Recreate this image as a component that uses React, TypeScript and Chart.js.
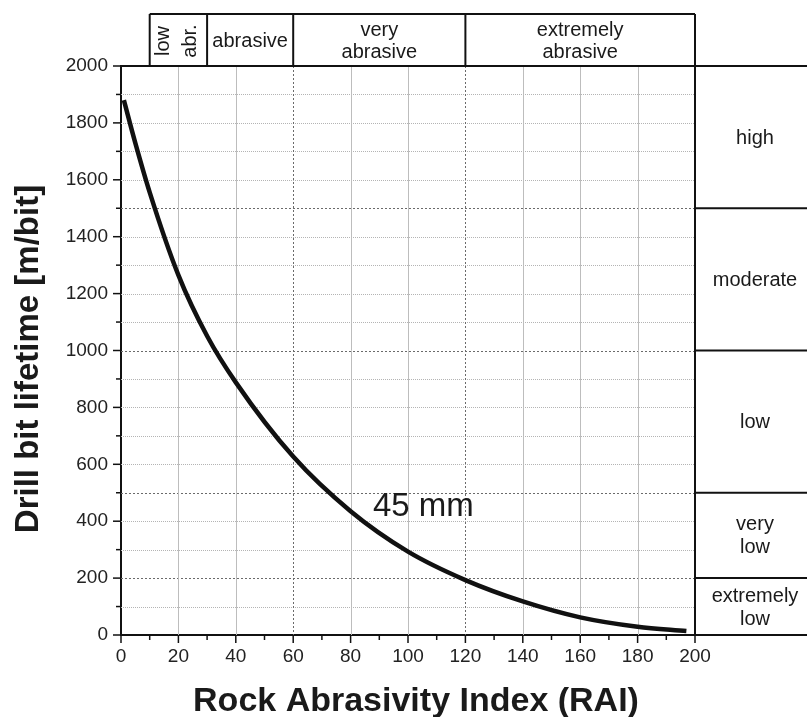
import React, { useEffect, useRef } from "react";
import { Chart, registerables } from "chart.js";

Chart.register(...registerables);

// ---- data ----
const RAI = [1, 5, 10, 20, 30, 40, 60, 80, 100, 120, 140, 160, 180, 197];
const LIFETIME = [1880, 1729, 1556, 1265, 1051, 888, 627, 435, 293, 193, 118, 62, 29, 14];
const CURVE_LABEL = "45 mm";

// abrasivity classes (top header), bounds in RAI
const ABR_BOUNDS = [10, 30, 60, 120, 200];
const ABR_LABELS = [["low", "abr."], ["abrasive"], ["very", "abrasive"], ["extremely", "abrasive"]];

// lifetime classes (right panel), bounds in m/bit
const LIFE_BOUNDS = [0, 200, 500, 1000, 1500, 2000];
const LIFE_LABELS = [["extremely", "low"], ["very", "low"], ["low"], ["moderate"], ["high"]];

const X_TITLE = "Rock Abrasivity Index (RAI)";
const Y_TITLE = "Drill bit lifetime [m/bit]";

const W = 807;
const H = 717;
const FONT = "'Liberation Sans', Arial, Helvetica, sans-serif";
const HEADER_TOP = 14;

function seg(ctx: CanvasRenderingContext2D, x1: number, y1: number, x2: number, y2: number) {
  ctx.beginPath();
  ctx.moveTo(x1, y1);
  ctx.lineTo(x2, y2);
  ctx.stroke();
}

const overlay = {
  id: "overlay",
  beforeDatasetsDraw(chart: any) {
    const { ctx, chartArea: a, scales } = chart;
    const x = scales.x;
    const y = scales.y;
    ctx.save();
    ctx.lineWidth = 1;
    for (let v = 100; v < 2000; v += 100) {
      const py = Math.round(y.getPixelForValue(v)) + 0.5;
      const strong = LIFE_BOUNDS.includes(v);
      ctx.strokeStyle = strong ? "#6a6a6a" : "#b4b4b4";
      ctx.setLineDash(strong ? [2, 2] : [1, 1]);
      seg(ctx, a.left, py, a.right, py);
    }
    for (let v = 20; v < 200; v += 20) {
      const px = Math.round(x.getPixelForValue(v)) + 0.5;
      const strong = ABR_BOUNDS.includes(v);
      ctx.strokeStyle = strong ? "#6a6a6a" : "#bdbdbd";
      ctx.setLineDash(strong ? [2, 2] : []);
      seg(ctx, px, a.top, px, a.bottom);
    }
    ctx.restore();
  },
  afterDraw(chart: any) {
    const { ctx, chartArea: a, scales } = chart;
    const x = scales.x;
    const y = scales.y;
    ctx.save();
    ctx.setLineDash([]);
    ctx.strokeStyle = "#111";
    ctx.fillStyle = "#1a1a1a";

    // tick marks
    ctx.lineWidth = 1.5;
    for (let v = 0; v <= 200; v += 10) {
      const px = x.getPixelForValue(v);
      seg(ctx, px, a.bottom, px, a.bottom + (v % 20 === 0 ? 8 : 5));
    }
    for (let v = 0; v <= 2000; v += 100) {
      const py = y.getPixelForValue(v);
      seg(ctx, a.left, py, a.left - (v % 200 === 0 ? 8 : 5), py);
    }

    // frame: top line and right border
    ctx.lineWidth = 2;
    seg(ctx, a.left - 1, a.top, W, a.top);
    seg(ctx, a.right, HEADER_TOP, a.right, a.bottom);

    // header boxes
    const hx0 = x.getPixelForValue(ABR_BOUNDS[0]);
    const hx1 = x.getPixelForValue(ABR_BOUNDS[ABR_BOUNDS.length - 1]);
    seg(ctx, hx0, HEADER_TOP, hx1, HEADER_TOP);
    ABR_BOUNDS.forEach((b) => {
      const px = x.getPixelForValue(b);
      seg(ctx, px, HEADER_TOP, px, a.top);
    });
    ctx.font = `20px ${FONT}`;
    ctx.textAlign = "center";
    ctx.textBaseline = "middle";
    const hMid = (HEADER_TOP + a.top) / 2;
    ABR_LABELS.forEach((lines, i) => {
      const cx = (x.getPixelForValue(ABR_BOUNDS[i]) + x.getPixelForValue(ABR_BOUNDS[i + 1])) / 2;
      if (i === 0) {
        lines.forEach((t, j) => {
          ctx.save();
          ctx.translate(cx - 15 + j * 27, hMid + 1);
          ctx.rotate(-Math.PI / 2);
          ctx.fillText(t, 0, 0);
          ctx.restore();
        });
      } else {
        const lh = 22;
        lines.forEach((t, j) => {
          ctx.fillText(t, cx, hMid + 1 + (j - (lines.length - 1) / 2) * lh);
        });
      }
    });

    // right panel
    LIFE_BOUNDS.forEach((b) => {
      const py = y.getPixelForValue(b);
      seg(ctx, a.right, py, W, py);
    });
    LIFE_LABELS.forEach((lines, i) => {
      const cy = (y.getPixelForValue(LIFE_BOUNDS[i]) + y.getPixelForValue(LIFE_BOUNDS[i + 1])) / 2;
      const lh = 23;
      lines.forEach((t, j) => {
        ctx.fillText(t, 755, cy + 1 + (j - (lines.length - 1) / 2) * lh);
      });
    });

    // curve label
    ctx.font = `33px ${FONT}`;
    ctx.textAlign = "left";
    ctx.textBaseline = "alphabetic";
    ctx.fillText(CURVE_LABEL, 373, 516);

    // axis titles
    ctx.font = `bold 34px ${FONT}`;
    ctx.textAlign = "center";
    ctx.fillText(X_TITLE, 416, 711);
    ctx.save();
    ctx.font = `bold 33px ${FONT}`;
    ctx.translate(38, 359);
    ctx.rotate(-Math.PI / 2);
    ctx.fillText(Y_TITLE, 0, 0);
    ctx.restore();

    ctx.restore();
  },
};

export default function App() {
  const ref = useRef<HTMLCanvasElement>(null);

  useEffect(() => {
    if (!ref.current) return;
    const chart = new Chart(ref.current, {
      type: "line",
      data: {
        datasets: [
          {
            label: CURVE_LABEL,
            data: RAI.map((r, i) => ({ x: r, y: LIFETIME[i] })),
            borderColor: "#111",
            borderWidth: 4.5,
            pointRadius: 0,
            cubicInterpolationMode: "monotone",
            fill: false,
          },
        ],
      },
      options: {
        responsive: false,
        animation: false,
        events: [],
        layout: { padding: { left: 0, top: 66, right: 112, bottom: 0 } },
        plugins: {
          legend: { display: false },
          tooltip: { enabled: false },
          title: { display: false },
        },
        scales: {
          x: {
            type: "linear",
            min: 0,
            max: 200,
            afterFit: (s: any) => {
              s.height = 82;
            },
            grid: { display: false, drawTicks: false },
            border: { display: true, color: "#111", width: 2 },
            ticks: {
              stepSize: 20,
              autoSkip: false,
              maxRotation: 0,
              padding: 10,
              color: "#222",
              font: { family: FONT, size: 19 },
              callback: (v: any) => String(v),
            },
          },
          y: {
            type: "linear",
            min: 0,
            max: 2000,
            afterFit: (s: any) => {
              s.width = 121;
            },
            grid: { display: false, drawTicks: false },
            border: { display: true, color: "#111", width: 2 },
            ticks: {
              stepSize: 200,
              autoSkip: false,
              padding: 13,
              color: "#222",
              font: { family: FONT, size: 19 },
              callback: (v: any) => String(v),
            },
          },
        },
      },
      plugins: [overlay],
    });
    return () => chart.destroy();
  }, []);

  return (
    <div style={{ position: "absolute", left: 0, top: 0, width: W, height: H, background: "#fff" }}>
      <canvas ref={ref} width={W} height={H} style={{ display: "block", width: W, height: H }} />
    </div>
  );
}
